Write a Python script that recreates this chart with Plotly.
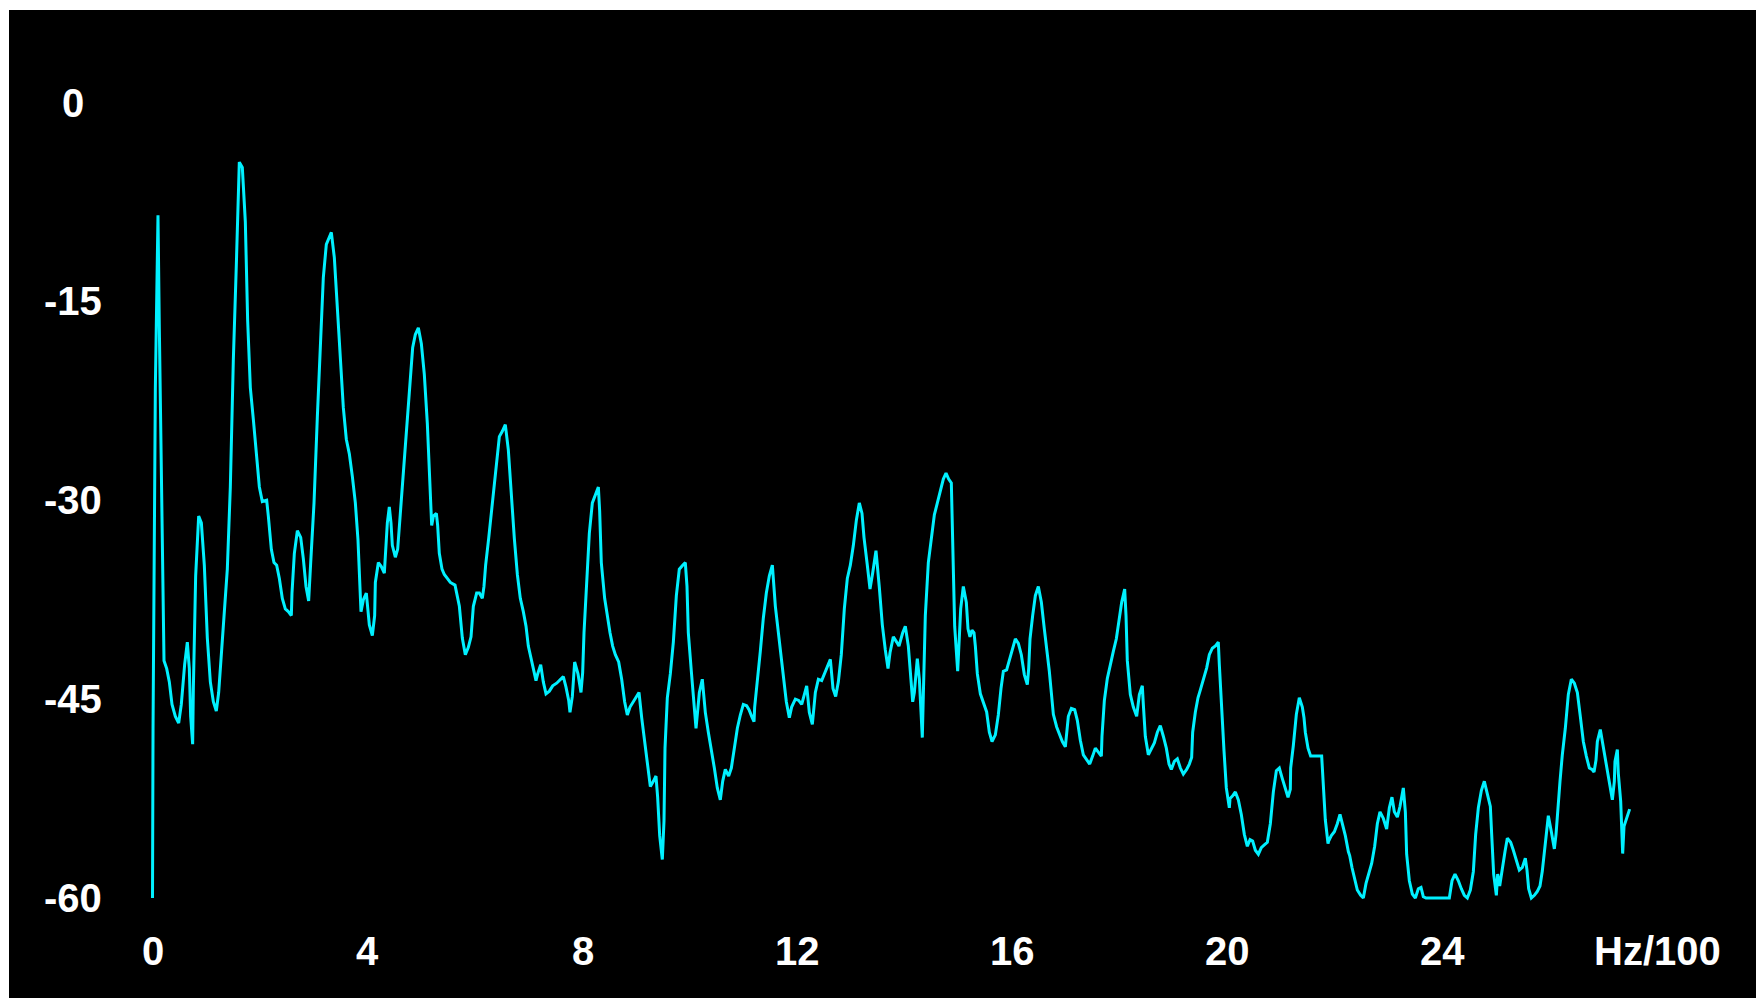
import plotly.graph_objects as go

# Spectrum: frequency in Hz/100, level in dB
freq_hz100 = [
    0.0, 0.01, 0.053, 0.102, 0.127, 0.177, 0.214, 0.264, 0.313, 0.363, 0.425, 0.487, 0.536, 0.598,
    0.648, 0.685, 0.710, 0.747, 0.760, 0.803, 0.859, 0.909, 0.964, 1.020, 1.076, 1.132, 1.187, 1.231,
    1.281, 1.336, 1.392, 1.448, 1.504, 1.560, 1.603, 1.615, 1.671, 1.727, 1.770, 1.820, 1.876, 1.932,
    1.988, 2.043, 2.124, 2.155, 2.211, 2.260, 2.310, 2.360, 2.415, 2.471, 2.527, 2.583, 2.595, 2.639,
    2.695, 2.757, 2.806, 2.856, 2.905, 2.943, 3.005, 3.067, 3.122, 3.178, 3.234, 3.284, 3.327, 3.383,
    3.439, 3.495, 3.550, 3.606, 3.662, 3.718, 3.774, 3.823, 3.860, 3.879, 3.923, 3.978, 4.034, 4.090,
    4.133, 4.146, 4.202, 4.257, 4.313, 4.338, 4.369, 4.406, 4.437, 4.462, 4.518, 4.561, 4.586, 4.629,
    4.685, 4.741, 4.797, 4.840, 4.890, 4.946, 5.002, 5.057, 5.113, 5.169, 5.194, 5.225, 5.281, 5.305,
    5.336, 5.386, 5.429, 5.485, 5.541, 5.628, 5.709, 5.764, 5.820, 5.876, 5.926, 5.969, 6.031, 6.081,
    6.136, 6.167, 6.198, 6.254, 6.310, 6.366, 6.409, 6.453, 6.508, 6.564, 6.620, 6.676, 6.732, 6.788,
    6.843, 6.899, 6.949, 6.992, 7.048, 7.104, 7.135, 7.166, 7.222, 7.271, 7.321, 7.383, 7.445, 7.519,
    7.594, 7.643, 7.693, 7.743, 7.767, 7.811, 7.854, 7.916, 7.972, 8.003, 8.028, 8.078, 8.127, 8.183,
    8.239, 8.295, 8.319, 8.350, 8.412, 8.462, 8.512, 8.561, 8.611, 8.673, 8.729, 8.784, 8.834, 8.884,
    8.946, 9.008, 9.051, 9.101, 9.157, 9.212, 9.262, 9.318, 9.367, 9.398, 9.436, 9.485, 9.516, 9.535,
    9.578, 9.634, 9.690, 9.746, 9.801, 9.864, 9.913, 9.944, 9.969, 10.025, 10.074, 10.112, 10.149,
    10.174, 10.229, 10.285, 10.341, 10.397, 10.453, 10.508, 10.564, 10.608, 10.657, 10.719, 10.769,
    10.825, 10.881, 10.936, 10.992, 11.054, 11.098, 11.147, 11.191, 11.203, 11.253, 11.308, 11.364,
    11.420, 11.476, 11.532, 11.588, 11.637, 11.681, 11.736, 11.792, 11.848, 11.891, 11.960, 12.022,
    12.078, 12.127, 12.171, 12.220, 12.276, 12.332, 12.388, 12.450, 12.499, 12.555, 12.611, 12.660,
    12.710, 12.760, 12.815, 12.871, 12.927, 12.983, 13.039, 13.095, 13.150, 13.200, 13.237, 13.299,
    13.349, 13.398, 13.460, 13.523, 13.578, 13.634, 13.684, 13.721, 13.783, 13.845, 13.888, 13.957,
    14.006, 14.062, 14.118, 14.143, 14.174, 14.205, 14.229, 14.267, 14.298, 14.322, 14.341, 14.378,
    14.434, 14.490, 14.546, 14.602, 14.657, 14.713, 14.763, 14.812, 14.862, 14.887, 14.924, 14.980,
    15.005, 15.036, 15.085, 15.141, 15.172, 15.209, 15.246, 15.284, 15.309, 15.346, 15.402, 15.457,
    15.519, 15.569, 15.619, 15.681, 15.736, 15.786, 15.830, 15.891, 15.941, 15.997, 16.053, 16.109,
    16.164, 16.220, 16.276, 16.301, 16.326, 16.375, 16.425, 16.481, 16.537, 16.592, 16.648, 16.685,
    16.722, 16.760, 16.822, 16.871, 16.927, 16.983, 17.039, 17.095, 17.157, 17.206, 17.262, 17.318,
    17.380, 17.436, 17.491, 17.541, 17.597, 17.653, 17.665, 17.709, 17.764, 17.820, 17.876, 17.932,
    17.981, 18.031, 18.087, 18.112, 18.136, 18.192, 18.248, 18.310, 18.360, 18.415, 18.434, 18.471,
    18.527, 18.583, 18.639, 18.695, 18.750, 18.806, 18.862, 18.912, 18.955, 19.011, 19.067, 19.123,
    19.178, 19.240, 19.290, 19.333, 19.352, 19.402, 19.451, 19.495, 19.550, 19.612, 19.662, 19.718,
    19.780, 19.829, 19.848, 19.891, 19.935, 19.978, 20.034, 20.047, 20.096, 20.146, 20.202, 20.257,
    20.313, 20.369, 20.419, 20.468, 20.518, 20.574, 20.629, 20.685, 20.741, 20.797, 20.853, 20.909,
    20.964, 21.020, 21.076, 21.126, 21.169, 21.175, 21.225, 21.281, 21.336, 21.392, 21.423, 21.448,
    21.498, 21.547, 21.752, 21.771, 21.820, 21.870, 21.882, 21.932, 21.988, 22.043, 22.093, 22.136,
    22.192, 22.248, 22.273, 22.316, 22.366, 22.415, 22.478, 22.527, 22.577, 22.620, 22.682, 22.738,
    22.788, 22.837, 22.899, 22.961, 23.011, 23.060, 23.104, 23.160, 23.209, 23.271, 23.309, 23.333,
    23.383, 23.439, 23.495, 23.550, 23.600, 23.643, 23.693, 24.127, 24.177, 24.233, 24.295, 24.350,
    24.406, 24.462, 24.518, 24.574, 24.617, 24.667, 24.723, 24.778, 24.834, 24.890, 24.915, 24.952,
    25.002, 25.026, 25.064, 25.113, 25.163, 25.206, 25.268, 25.318, 25.380, 25.429, 25.485, 25.541,
    25.572, 25.603, 25.653, 25.709, 25.764, 25.814, 25.857, 25.913, 25.969, 26.025, 26.081, 26.112,
    26.143, 26.186, 26.229, 26.285, 26.341, 26.397, 26.453, 26.509, 26.564, 26.620, 26.676, 26.732,
    26.781, 26.819, 26.856, 26.881, 26.936, 26.992, 27.048, 27.104, 27.160, 27.197, 27.209, 27.253,
    27.271, 27.315, 27.352, 27.377, 27.426, 27.482,
]

level_db = [
    -60.0, -47.2, -21.5, -8.5, -17.0, -33.7, -42.1, -42.7, -43.7, -45.4, -46.3, -46.8, -45.4, -42.4,
    -40.7, -42.7, -46.3, -48.4, -44.2, -35.7, -31.2, -31.7, -34.9, -40.4, -43.7, -45.2, -45.9, -44.5,
    -41.6, -38.7, -35.2, -29.0, -19.4, -12.2, -7.3, -4.5, -4.9, -9.0, -16.4, -21.5, -23.9, -26.5,
    -29.0, -30.1, -30.0, -31.2, -33.7, -34.7, -34.9, -35.9, -37.4, -38.2, -38.4, -38.7, -37.0, -34.0,
    -32.3, -32.8, -34.4, -36.5, -37.6, -34.7, -30.2, -23.7, -18.0, -13.2, -10.7, -10.2, -9.8, -11.7,
    -15.3, -19.0, -23.0, -25.4, -26.5, -28.2, -30.2, -33.0, -36.5, -38.4, -37.5, -37.0, -39.4, -40.2,
    -38.7, -36.2, -34.7, -35.0, -35.5, -34.1, -31.7, -30.5, -31.7, -33.4, -34.3, -33.7, -32.3, -30.2,
    -27.2, -23.9, -20.5, -18.5, -17.5, -17.0, -18.2, -20.5, -24.2, -29.2, -31.9, -31.2, -31.0, -31.9,
    -34.0, -35.2, -35.6, -35.9, -36.2, -36.4, -38.0, -40.4, -41.65, -41.1, -40.3, -38.0, -37.0, -37.0,
    -37.4, -36.5, -34.9, -32.9, -30.7, -28.7, -26.7, -25.2, -24.8, -24.3, -26.2, -29.7, -32.9, -35.6,
    -37.4, -38.4, -39.5, -41.0, -42.1, -43.1, -43.6, -43.1, -42.4, -43.7, -44.6, -44.4, -44.0, -43.8,
    -43.5, -43.3, -44.1, -45.1, -46.0, -44.8, -42.2, -43.1, -44.5, -43.0, -40.0, -36.5, -32.5, -30.2,
    -29.6, -29.0, -30.8, -34.7, -37.4, -38.9, -40.0, -41.0, -41.65, -42.2, -43.5, -45.2, -46.2, -45.6,
    -45.2, -44.7, -44.5, -46.4, -48.2, -50.4, -51.6, -51.2, -50.8, -52.4, -55.3, -57.1, -54.2, -48.7,
    -44.9, -43.1, -40.7, -37.2, -35.2, -34.9, -34.7, -36.5, -40.0, -42.9, -45.6, -47.2, -45.6,
    -44.5, -43.5, -46.0, -47.5, -48.7, -50.2, -51.7, -52.6, -51.2, -50.3, -50.8, -50.2,
    -48.7, -47.2, -46.2, -45.4, -45.5, -45.8, -46.3, -46.7, -45.6, -43.7, -41.4, -38.9,
    -37.0, -35.7, -34.9, -38.0, -39.7, -41.2, -42.9, -45.2, -46.4, -45.6, -45.0, -45.1,
    -45.4, -44.6, -44.0, -46.0, -46.9, -44.5, -43.5, -43.6, -43.1, -42.5, -42.0, -44.2,
    -44.8, -43.7, -41.65, -38.2, -35.9, -34.9, -33.4, -31.5, -30.2, -31.0, -32.8, -34.9,
    -36.7, -35.5, -33.8, -36.6, -39.4, -41.3, -42.7, -41.5, -40.3, -40.7, -41.0, -40.0,
    -39.5, -41.0, -43.7, -45.2, -44.5, -42.9, -41.95, -43.5, -46.4, -47.9, -44.7, -38.7,
    -34.7, -32.7, -31.1, -30.2, -29.2, -28.4, -27.96, -28.4, -28.7, -32.5, -39.5, -42.9,
    -41.2, -38.2, -36.5, -37.7, -39.7, -40.3, -39.8, -40.0, -41.0, -43.1, -44.6, -45.2,
    -45.97, -47.5, -48.2, -47.7, -46.2, -44.2, -42.9, -42.8, -42.1, -41.2, -40.45, -40.8,
    -41.65, -43.15, -43.9, -42.7, -40.45, -38.7, -37.2, -36.5, -37.7, -39.7, -41.4, -42.9,
    -44.5, -46.15, -47.1, -47.65, -48.2, -48.6, -46.3, -45.7, -45.8, -46.6, -48.1, -49.2,
    -49.6, -49.9, -49.3, -48.7, -49.0, -49.3, -47.8, -45.1, -43.45, -42.3, -41.4, -40.45,
    -39.1, -37.7, -36.7, -38.7, -42.1, -44.65, -45.6, -46.3, -44.65, -44.0, -45.4, -47.8,
    -49.2, -48.8, -48.3, -47.5, -47.0, -47.8, -48.7, -49.9, -50.3, -49.7, -49.5, -50.2,
    -50.65, -50.3, -49.9, -49.4, -47.5, -45.97, -44.9, -44.3, -43.45, -42.66, -41.65, -41.16,
    -40.97, -40.7, -42.4, -45.97, -48.9, -51.7, -53.2, -52.5, -52.3, -52.0, -52.6, -53.7,
    -55.2, -56.1, -55.6, -55.7, -56.4, -56.7, -56.2, -56.0, -55.8, -54.4, -52.0, -50.4,
    -50.2, -51.0, -51.8, -52.4, -51.8, -50.2, -48.5, -46.15, -44.9, -45.6, -46.4, -47.5,
    -48.7, -49.3, -49.3, -50.9, -54.1, -55.9, -55.7, -55.3, -55.0, -54.4, -53.7, -54.4,
    -55.3, -56.5, -56.8, -57.7, -58.7, -59.4, -59.8, -60.0, -58.9, -58.2, -57.4, -56.1,
    -54.4, -53.5, -54.0, -54.8, -53.2, -52.4, -53.5, -53.9, -53.1, -51.7, -53.5, -56.7,
    -58.7, -59.7, -60.0, -59.3, -59.2, -59.9, -60.0, -60.0, -58.7, -58.2, -58.7, -59.3,
    -59.8, -60.0, -59.4, -58.0, -55.2, -53.2, -51.9, -51.2, -52.2, -53.1, -55.2, -58.2,
    -59.8, -58.2, -59.1, -57.7, -56.5, -55.5, -55.8, -56.4, -57.2, -57.9, -57.7, -57.0,
    -57.9, -59.3, -60.0, -59.8, -59.5, -59.1, -57.97, -56.1, -53.8, -55.0, -56.3, -55.2,
    -53.2, -51.2, -49.2, -47.2, -44.65, -43.5, -43.8, -44.5, -46.3, -48.2, -49.3, -50.2,
    -50.3, -50.5, -49.6, -48.2, -47.3, -48.6, -50.0, -51.2, -52.6, -51.2, -49.7, -48.8,
    -50.6, -52.7, -56.65, -54.6, -53.9, -53.3,
]

x_tick_vals = [0, 4, 8, 12, 16, 20, 24, 28]
x_tick_text = ["0", "4", "8", "12", "16", "20", "24", "Hz/100"]
y_tick_vals = [0, -15, -30, -45, -60]
y_tick_text = ["0", "-15", "-30", "-45", "-60"]

W, H = 1756, 998
ML, MR, MT, MB = 120, 20, 40, 78
PW, PH = W - ML - MR, H - MT - MB

LABEL_FONT = dict(family="Liberation Sans, Arial, sans-serif", size=40, color="white", weight="bold")

fig = go.Figure()
fig.add_trace(go.Scatter(
    x=freq_hz100, y=level_db, mode="lines",
    line=dict(color="#00F0FF", width=3),
    hoverinfo="skip", showlegend=False,
))


def px_x(p):
    return (p - ML) / PW


def px_y(p):
    return (H - MB - p) / PH


annotations = []
for v, t in zip(y_tick_vals, y_tick_text):
    annotations.append(dict(
        x=px_x(72.5), xref="paper", y=v, yref="y",
        text=t, showarrow=False, xanchor="center", yanchor="middle", font=LABEL_FONT,
    ))
for v, t in zip(x_tick_vals, x_tick_text):
    annotations.append(dict(
        x=v, xref="x", y=px_y(951), yref="paper",
        text=t, showarrow=False, xanchor="center", yanchor="middle", font=LABEL_FONT,
    ))

shapes = [
    # white frame strips along the top and left edges
    dict(type="rect", xref="paper", yref="paper", x0=px_x(-2), x1=px_x(9), y0=px_y(H + 2), y1=px_y(-2),
         fillcolor="white", line=dict(width=0), layer="above"),
    dict(type="rect", xref="paper", yref="paper", x0=px_x(-2), x1=px_x(W + 2), y0=px_y(10), y1=px_y(-2),
         fillcolor="white", line=dict(width=0), layer="above"),
]

fig.update_layout(
    width=W, height=H,
    margin=dict(l=ML, r=MR, t=MT, b=MB, pad=0),
    paper_bgcolor="black", plot_bgcolor="black",
    annotations=annotations, shapes=shapes,
    xaxis=dict(range=[-0.6047, 29.4605], showgrid=False, zeroline=False, showline=False,
               showticklabels=False, ticks=""),
    yaxis=dict(range=[-61.661, 4.714], showgrid=False, zeroline=False, showline=False,
               showticklabels=False, ticks=""),
)

fig.write_html("out.html", config={"displayModeBar": False})
